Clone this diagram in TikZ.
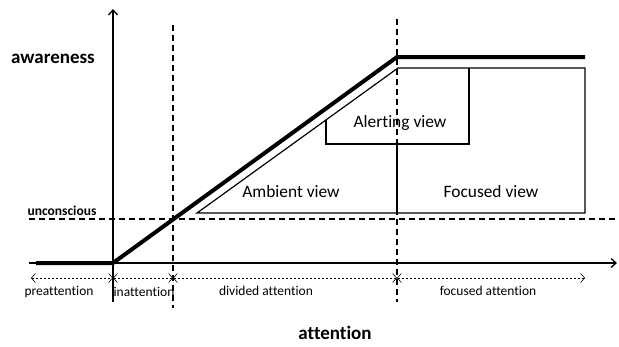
\documentclass[tikz,border=0pt]{standalone}
\usepackage{fontspec}
\setmainfont{Carlito}[Ligatures=NoCommon]
\usetikzlibrary{arrows.meta}

\begin{document}
\begin{tikzpicture}[x=1pt, y=-1pt,
    axis/.style={line width=1.3pt, -{Straight Barb[length=5pt, width=9pt]}},
    curve/.style={line width=4pt},
    view/.style={line width=1.2pt, line join=miter},
    guide/.style={line width=1.3pt, dash pattern=on 6pt off 4pt},
    span/.style={line width=0.6pt, dash pattern=on 2.5pt off 1.5pt,
      {Straight Barb[length=4pt, width=9pt]}-{Straight Barb[length=4pt, width=9pt]}},
    big/.style={font=\fontsize{19}{22}\selectfont\bfseries},
    small/.style={font=\fontsize{13.5}{16}\selectfont},
    viewlabel/.style={font=\fontsize{17.4}{20}\selectfont}]
  \useasboundingbox (0,0) rectangle (619,346);

  % Axes
  \coordinate (o) at (113,263);
  \coordinate (ytop) at (113,9);
  \coordinate (ybot) at (113,302);
  \coordinate (xleft) at (29,263);
  \coordinate (xright) at (617,263);
  \draw[axis] (ybot) -- (ytop);
  \draw[axis] (xleft) -- (xright);

  % Guides
  \coordinate (g1top) at (173,25);
  \coordinate (g1bot) at (173,308);
  \coordinate (g2top) at (397,19);
  \coordinate (g2bot) at (397,302);
  \coordinate (uleft) at (29,219);
  \coordinate (uright) at (619,219);
  \draw[guide] (g1top) -- (g1bot);
  \draw[guide] (g2top) -- (g2bot);
  \draw[guide] (uleft) -- (uright);

  % Awareness curve
  \coordinate (c0) at (36,263);
  \coordinate (peak) at (397,57);
  \coordinate (c1) at (585,57);
  \draw[curve] (c0) -- (o) -- (peak) -- (c1);

  % Views
  \coordinate (v0) at (197,213);
  \coordinate (v1) at (398,68);
  \coordinate (v2) at (585,68);
  \coordinate (v3) at (585,213);
  \coordinate (a0) at (326,120);
  \coordinate (a1) at (326,144);
  \coordinate (a2) at (469,144);
  \coordinate (a3) at (469,68);
  \coordinate (m0) at (397,144);
  \coordinate (m1) at (397,213);
  \draw[view] (v0) -- (v1) -- (v2) -- (v3) -- cycle;
  \draw[view] (a0) -- (a1) -- (a2) -- (a3);
  \draw[view] (m0) -- (m1);

  \node[viewlabel] at (400,123) (alert) {Alerting view};
  \node[viewlabel] at (291,192) (ambient) {Ambient view};
  \node[viewlabel] at (491,192) (focused) {Focused view};

  % Phases
  \coordinate (p0) at (31,278);
  \coordinate (p1) at (113,278);
  \coordinate (p2) at (173,278);
  \coordinate (p3) at (397,278);
  \coordinate (p4) at (585,278);
  \draw[span] (p0) -- (p1);
  \draw[span] (p1) -- (p2);
  \draw[span] (p2) -- (p3);
  \draw[span] (p3) -- (p4);

  \node[small] at (59,292) (pre) {preattention};
  \node[small] at (144,292) (inatt) {inattention};
  \node[small] at (266,291) (divided) {divided attention};
  \node[small] at (488,291) (focus) {focused attention};

  % Axis labels
  \node[big] at (53,59) (aw) {awareness};
  \node[small, font=\fontsize{13.5}{16}\selectfont\bfseries] at (62,211) (uncon) {unconscious};
  \node[big] at (335,333) (att) {attention};
\end{tikzpicture}
\end{document}
